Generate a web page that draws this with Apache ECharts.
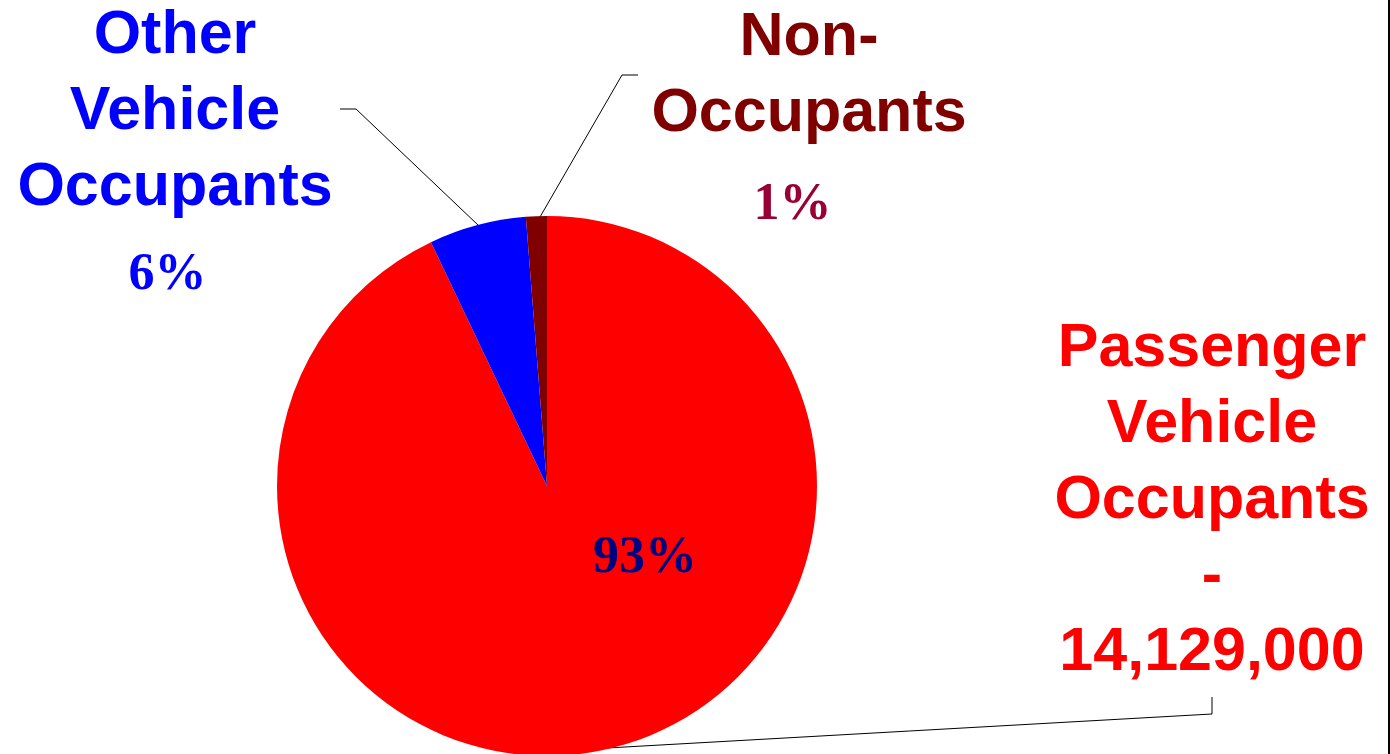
<!DOCTYPE html>
<html>
<head>
<meta charset="utf-8">
<script src="https://cdn.jsdelivr.net/npm/echarts@6/dist/echarts.min.js"></script>
<style>
  html, body { margin: 0; padding: 0; background: #fff; }
  #chart { width: 1388px; height: 754px; border-right: 2px solid #000; }
</style>
</head>
<body>
<div id="chart"></div>
<script>
// slices, clockwise from 12 o'clock
const categories = ['Passenger Vehicle Occupants', 'Other Vehicle Occupants', 'Non-Occupants']
const labelLines = [
  ['Passenger', 'Vehicle', 'Occupants'],
  ['Other', 'Vehicle', 'Occupants'],
  ['Non-', 'Occupants'],
]
const values = [14129000, 885000, 190000]
const colors = ['#FF0000', '#0000FF', '#800000']
const pctColors = ['#000080', '#0000FF', '#990033']

const chart = echarts.init(document.getElementById('chart'))

const sans = 'Liberation Sans, Arial, sans-serif'
const serif = 'Liberation Serif, Times New Roman, serif'

function nameStyle(color) {
  return { fontFamily: sans, fontWeight: 'bold', fontSize: 61, lineHeight: 76, color: color, align: 'center' }
}

// where each outside label block sits and where its leader runs
const outsideLabels = [
  { x: 1212, y: 311, line: [[607, 748], [1212, 714], [1212, 697]] },
  { x: 175, y: -2, line: [[478, 225], [356, 109], [340, 109]] },
  { x: 809, y: 0, line: [[540, 217], [622, 75], [638, 75]] },
]

const option = {
  animation: false,
  series: [
    {
      type: 'pie',
      center: [547, 486],
      radius: 270,
      startAngle: 90,
      clockwise: true,
      avoidLabelOverlap: false,
      silent: true,
      itemStyle: { borderWidth: 0 },
      data: categories.map((name, i) => ({
        name: name,
        value: values[i],
        itemStyle: { color: colors[i] },
      })),
      label: {
        show: true,
        position: 'outside',
        formatter: (p) => {
          const i = p.dataIndex
          const lines = labelLines[i].map((l) => `{n${i}|${l}}`)
          if (i === 0) {
            lines.push(`{n0|-}`, `{n0|${values[0].toLocaleString('en-US')}}`)
          } else {
            lines.push(`{p${i}|${Math.round(p.percent)}%}`)
          }
          return lines.join('\n')
        },
        rich: {
          n0: nameStyle(colors[0]),
          n1: nameStyle(colors[1]),
          n2: nameStyle(colors[2]),
          p1: { fontFamily: serif, fontWeight: 'bold', fontSize: 52, lineHeight: 100, color: pctColors[1], padding: [0, 15, 0, 0] },
          p2: { fontFamily: serif, fontWeight: 'bold', fontSize: 52, lineHeight: 108, color: pctColors[2], padding: [0, 33, 0, 0] },
        },
      },
      labelLine: {
        show: true,
        lineStyle: { color: '#000', width: 1 },
      },
      labelLayout: (params) => {
        const o = outsideLabels[params.dataIndex]
        return {
          x: o.x,
          y: o.y,
          align: 'center',
          verticalAlign: 'top',
          labelLinePoints: o.line,
        }
      },
    },
    {
      // transparent copy, only carries the big share inside the red slice
      type: 'pie',
      center: [547, 486],
      radius: 270,
      startAngle: 90,
      clockwise: true,
      silent: true,
      itemStyle: { color: 'transparent' },
      data: categories.map((name, i) => ({ name: name, value: values[i] })),
      label: {
        show: true,
        position: 'inside',
        formatter: (p) => (p.dataIndex === 0 ? Math.round(p.percent) + '%' : ''),
        fontFamily: serif,
        fontWeight: 'bold',
        fontSize: 52,
        color: pctColors[0],
      },
      labelLine: { show: false },
      labelLayout: (params) => {
        if (params.dataIndex !== 0) return {}
        return { x: 645, y: 559, align: 'center', verticalAlign: 'middle' }
      },
    },
  ],
}

chart.setOption(option)
</script>
</body>
</html>
